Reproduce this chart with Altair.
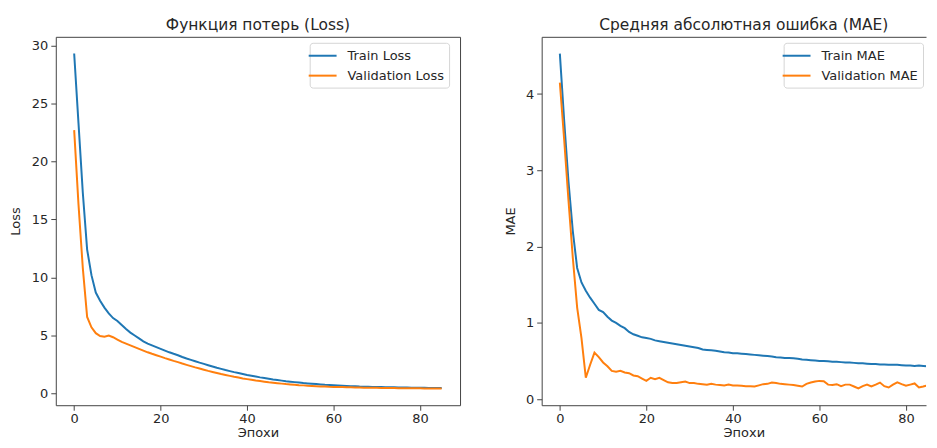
import altair as alt
import pandas as pd

epochs = list(range(86))

train_loss = [29.3, 23.3, 17.3, 12.4, 10.2, 8.7, 8.0, 7.4, 6.9, 6.5,
              6.25, 5.9, 5.55, 5.25, 5.0, 4.75, 4.5, 4.3, 4.15, 4.0,
              3.85, 3.7, 3.55, 3.42, 3.3, 3.15, 3.02, 2.9, 2.78, 2.66,
              2.55, 2.44, 2.33, 2.22, 2.12, 2.02, 1.93, 1.84, 1.76, 1.68,
              1.6, 1.53, 1.46, 1.39, 1.33, 1.27, 1.21, 1.16, 1.11, 1.06,
              1.02, 0.98, 0.94, 0.9, 0.87, 0.84, 0.81, 0.78, 0.75, 0.73,
              0.71, 0.69, 0.67, 0.65, 0.63, 0.62, 0.6, 0.59, 0.58, 0.57,
              0.56, 0.55, 0.54, 0.53, 0.53, 0.52, 0.51, 0.51, 0.5, 0.5,
              0.49, 0.49, 0.48, 0.48, 0.47, 0.47]

val_loss = [22.7, 16.3, 10.8, 6.6, 5.7, 5.2, 4.95, 4.9, 5.0, 4.85,
            4.65, 4.45, 4.3, 4.15, 4.0, 3.85, 3.7, 3.55, 3.42, 3.3,
            3.18, 3.05, 2.93, 2.81, 2.7, 2.58, 2.47, 2.36, 2.25, 2.15,
            2.05, 1.95, 1.86, 1.77, 1.68, 1.6, 1.52, 1.44, 1.37, 1.3,
            1.24, 1.18, 1.12, 1.07, 1.02, 0.97, 0.93, 0.89, 0.85, 0.81,
            0.78, 0.75, 0.72, 0.7, 0.67, 0.65, 0.63, 0.61, 0.6, 0.58,
            0.57, 0.56, 0.55, 0.54, 0.53, 0.52, 0.51, 0.5, 0.5, 0.49,
            0.49, 0.48, 0.48, 0.47, 0.47, 0.46, 0.46, 0.46, 0.45, 0.45,
            0.45, 0.44, 0.44, 0.44, 0.44, 0.43]

train_mae = [4.53, 3.65, 2.85, 2.2, 1.72, 1.53, 1.42, 1.33, 1.25, 1.17,
             1.14, 1.08, 1.03, 1.0, 0.96, 0.93, 0.88, 0.85, 0.83, 0.81,
             0.8, 0.79, 0.77, 0.76, 0.75, 0.74, 0.73, 0.72, 0.71, 0.7,
             0.69, 0.68, 0.67, 0.65, 0.645, 0.64, 0.635, 0.625, 0.615, 0.61,
             0.6, 0.6, 0.595, 0.59, 0.585, 0.58, 0.575, 0.57, 0.565, 0.56,
             0.55, 0.545, 0.54, 0.54, 0.535, 0.53, 0.52, 0.515, 0.51, 0.505,
             0.5, 0.5, 0.495, 0.49, 0.49, 0.485, 0.48, 0.48, 0.475, 0.47,
             0.47, 0.465, 0.46, 0.46, 0.455, 0.455, 0.45, 0.45, 0.45, 0.445,
             0.44, 0.44, 0.435, 0.44, 0.435, 0.43]

val_mae = [4.15, 3.4, 2.6, 1.85, 1.2, 0.8, 0.28, 0.45, 0.61, 0.55,
           0.48, 0.43, 0.37, 0.36, 0.37, 0.35, 0.34, 0.31, 0.3, 0.27,
           0.24, 0.28, 0.26, 0.28, 0.25, 0.22, 0.21, 0.21, 0.22, 0.23,
           0.21, 0.21, 0.2, 0.196, 0.19, 0.2, 0.19, 0.185, 0.18, 0.19,
           0.18, 0.18, 0.175, 0.17, 0.17, 0.165, 0.18, 0.196, 0.2, 0.217,
           0.21, 0.2, 0.196, 0.19, 0.185, 0.175, 0.165, 0.2, 0.217, 0.23,
           0.239, 0.235, 0.19, 0.185, 0.196, 0.17, 0.19, 0.19, 0.165, 0.14,
           0.17, 0.19, 0.165, 0.19, 0.217, 0.17, 0.152, 0.19, 0.22, 0.196,
           0.175, 0.19, 0.205, 0.152, 0.165, 0.18]

loss_names = ["Train Loss", "Validation Loss"]
mae_names = ["Train MAE", "Validation MAE"]
colors = ["#1f77b4", "#ff7f0e"]
x_ticks = [0, 20, 40, 60, 80]
loss_ticks = [0, 5, 10, 15, 20, 25, 30]
mae_ticks = [0, 1, 2, 3, 4]

FONT = "DejaVu Sans"
TXT = "#262626"
FRAME = "#444"


def long_df(a, b, names):
    return pd.DataFrame({
        "epoch": epochs + epochs,
        "value": a + b,
        "series": [names[0]] * len(a) + [names[1]] * len(b),
    })


def make_axis(**kw):
    base = dict(grid=False, tickSize=5, tickColor=FRAME, domainColor=FRAME,
                labelFont=FONT, labelFontSize=13, labelColor=TXT,
                titleFont=FONT, titleFontSize=13, titleFontWeight="normal",
                titleColor=TXT, format="d")
    base.update(kw)
    return alt.Axis(**base)


def legend(x):
    # short horizontal line handle, like matplotlib's legend
    return alt.Legend(orient="none", legendX=x, legendY=6,
                      title=None, symbolType="M-2,0L2,0",
                      symbolSize=196, symbolStrokeWidth=2,
                      labelFont=FONT, labelFontSize=13,
                      labelColor=TXT, labelOffset=17,
                      strokeColor="#d5d5d5", fillColor="white",
                      padding=5, cornerRadius=3, rowPadding=5)


def title(text, dx=0):
    return alt.TitleParams(text, font=FONT, fontSize=15.5, fontWeight="normal",
                           color=TXT, anchor="middle", frame="group", offset=3, dx=dx)


# ---- left panel: loss ----
xs_l = alt.Scale(domain=[-4.25, 89.25], nice=False, zero=False)
ys_l = alt.Scale(domain=[-1.01, 30.74], nice=False, zero=False)
left = alt.Chart(long_df(train_loss, val_loss, loss_names)).mark_line(
    strokeWidth=2, clip=True).encode(
    x=alt.X("epoch:Q", scale=xs_l,
            axis=make_axis(values=x_ticks, title="Эпохи", domain=False,
                           labelPadding=2, titlePadding=1)),
    y=alt.Y("value:Q", scale=ys_l,
            axis=make_axis(values=loss_ticks, title="Loss", domain=False,
                           labelPadding=3, titlePadding=9)),
    color=alt.Color("series:N", scale=alt.Scale(domain=loss_names, range=colors),
                    legend=legend(255)),
).properties(width=406, height=370, title=title("Функция потерь (Loss)"),
             view=alt.ViewBackground(stroke=FRAME, strokeWidth=1))

# ---- right panel: MAE (its right border lies outside the picture) ----
RW = 386
xs_r = alt.Scale(domain=[-4.2, -4.2 + RW / 4.345], nice=False, zero=False)
ys_r = alt.Scale(domain=[-0.08, 4.75], nice=False, zero=False)
mae_df = long_df(train_mae, val_mae, mae_names)
right_lines = alt.Chart(mae_df).mark_line(strokeWidth=2, clip=True).encode(
    x=alt.X("epoch:Q", scale=xs_r,
            axis=make_axis(values=x_ticks, title="Эпохи", domain=True,
                           labelPadding=2, titlePadding=1, titleX=203)),
    y=alt.Y("value:Q", scale=ys_r,
            axis=make_axis(values=mae_ticks, title="MAE", domain=True,
                           labelPadding=3, titlePadding=8)),
    color=alt.Color("series:N", scale=alt.Scale(domain=mae_names, range=colors),
                    legend=legend(243)),
)
right_top = alt.Chart(mae_df).mark_line(opacity=0).encode(
    x=alt.X("epoch:Q", scale=xs_r,
            axis=alt.Axis(orient="top", labels=False, ticks=False, title="",
                          grid=False, domain=True, domainColor=FRAME)),
    y=alt.Y("value:Q", scale=ys_r, axis=None),
)
right = alt.layer(right_lines, right_top).resolve_axis(
    x="independent", y="independent").properties(
    width=RW, height=370, title=title("Средняя абсолютная ошибка (MAE)", dx=10),
    view=alt.ViewBackground(stroke="transparent"))

chart = alt.hconcat(left, right, spacing=43).resolve_scale(
    color="independent").resolve_legend(color="independent").properties(
    padding={"left": 0, "top": 9, "right": 0, "bottom": 0}
)

chart.save("out.html", embed_options={"renderer": "svg", "actions": False})
